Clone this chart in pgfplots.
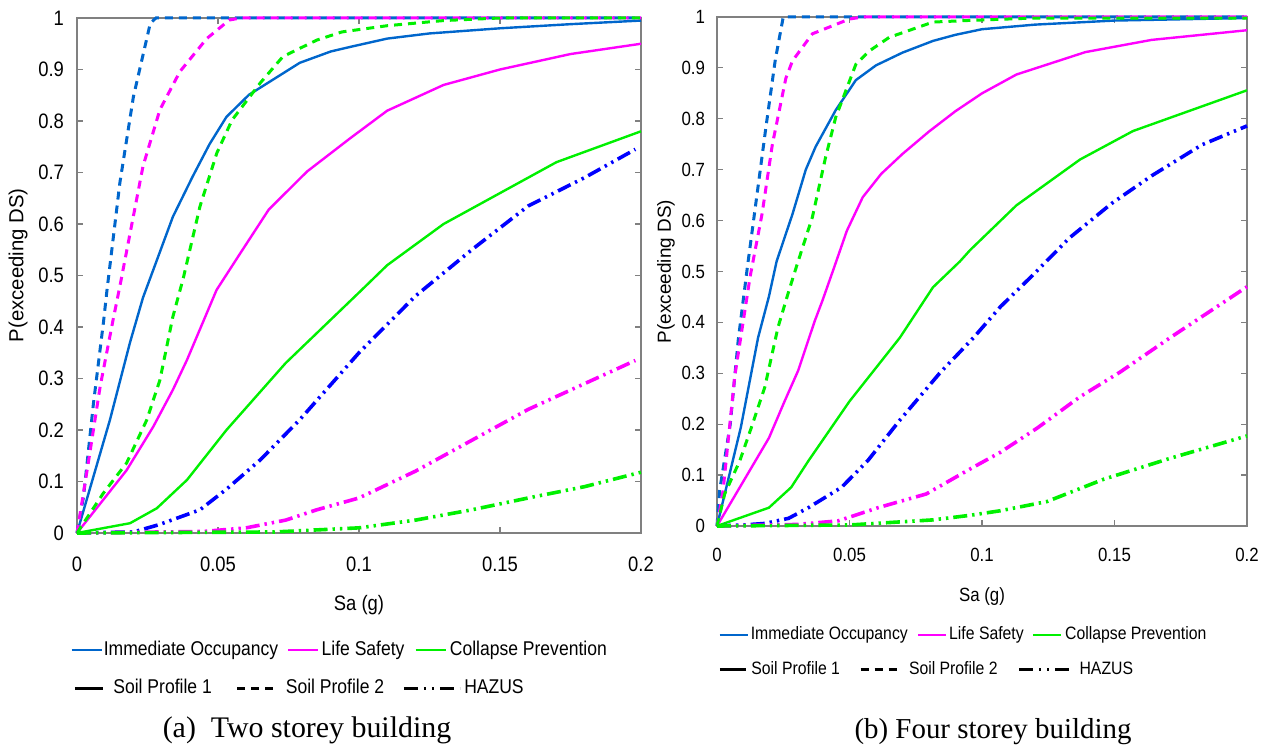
\documentclass[border=0pt]{standalone}
\usepackage{fontspec}
\usepackage{pgfplots}
\pgfplotsset{compat=1.18}
\setmainfont{Liberation Serif}
\newfontfamily\narrow[FakeStretch=0.88]{Liberation Sans}
\newfontfamily\sansf{Liberation Sans}
\definecolor{ioblue}{RGB}{0,102,204}
\definecolor{hzblue}{RGB}{0,0,255}
\definecolor{lsmag}{RGB}{255,0,255}
\definecolor{cpgreen}{RGB}{0,240,0}
\definecolor{axgray}{RGB}{128,128,128}
\tikzset{
  sp1/.style={line width=1.2bp},
  sp2/.style={line width=1.5bp, dash pattern=on 4bp off 3bp},
  hz/.style={line width=1.8bp, dash pattern=on 7bp off 2.5bp on 1.2bp off 2.5bp on 1.2bp off 2.5bp},
}
\pgfplotsset{
  leg/.style n args={3}{legend image code/.code={\path (-#1,0bp); \draw[##1] (0bp,0bp) -- (#2,0bp); \path (#2+#3,0bp);}},
  frag/.style={
    scale only axis, clip=false,
    xmin=0, xmax=0.2, ymin=0, ymax=1,
    axis line style={axgray, line width=0.8bp},
    tick style={axgray, line width=0.6bp},
    tick align=inside, major tick length=3bp,
    xtick={0,0.05,0.1,0.15,0.2},
    xticklabels={0,0.05,0.1,0.15,0.2},
    ytick={0,0.1,0.2,0.3,0.4,0.5,0.6,0.7,0.8,0.9,1},
    yticklabels={0,0.1,0.2,0.3,0.4,0.5,0.6,0.7,0.8,0.9,1},
    ylabel={P(exceeding DS)}, xlabel={Sa (g)},
    legend cell align=left,
  },
  legrow/.style={hide axis, scale only axis, xmin=0, xmax=1, ymin=0, ymax=1,
    legend cell align=left},
}
\begin{document}
\begin{tikzpicture}
\path[use as bounding box] (0,0) rectangle (637bp,374.5bp);

% ---------------- (a) Two storey ----------------
\begin{axis}[frag,
  at={(38.5bp,108bp)}, anchor=south west, width=282bp, height=257.5bp,
  ticklabel style={font=\narrow\fontsize{10.5}{12}\selectfont},
  xticklabel shift=8.5bp, yticklabel shift=3bp,
  every axis y label/.style={at={(axis description cs:-0.1046,0.52)}, rotate=90, anchor=center, font=\sansf\fontsize{10.2}{12}\selectfont},
  every axis x label/.style={at={(axis description cs:0.5,-0.14)}, anchor=center, font=\narrow\fontsize{10.5}{12}\selectfont},
  legend style={draw=none, fill=none, inner sep=0pt, at={(-0.0124,-0.2272)}, anchor=west,
    font=\narrow\fontsize{10}{12}\selectfont,
    nodes={inner sep=0pt}, column sep=0pt},
  legend columns=3,
]
\addlegendimage{ioblue, sp1, leg={0bp}{15bp}{0.5bp}}\addlegendentry{Immediate Occupancy}
\addlegendimage{lsmag, sp1, leg={4.5bp}{15bp}{1bp}}\addlegendentry{Life Safety}
\addlegendimage{cpgreen, sp1, leg={5bp}{15bp}{1.5bp}}\addlegendentry{Collapse Prevention}
% IO SP1
\addplot[ioblue, sp1, forget plot] coordinates {(0,0) (0.0117,0.22) (0.0188,0.37) (0.0234,0.457) (0.028,0.525) (0.034,0.614) (0.041,0.692) (0.047,0.755) (0.053,0.808) (0.061,0.851) (0.07,0.882) (0.079,0.913) (0.09,0.935) (0.097,0.944) (0.11,0.96) (0.125,0.97) (0.15,0.98) (0.175,0.988) (0.2,0.995)};
% IO SP2
\addplot[ioblue, sp2, forget plot] coordinates {(0,0) (0.0023,0.07) (0.0058,0.25) (0.0094,0.41) (0.0106,0.47) (0.0152,0.68) (0.02,0.847) (0.026,0.99) (0.028,1) (0.2,1)};
% LS SP1
\addplot[lsmag, sp1, forget plot] coordinates {(0,0) (0.0176,0.122) (0.027,0.206) (0.034,0.278) (0.039,0.336) (0.0495,0.472) (0.058,0.544) (0.068,0.628) (0.0816,0.702) (0.097,0.767) (0.11,0.82) (0.13,0.87) (0.15,0.9) (0.175,0.93) (0.2,0.95)};
% LS SP2
\addplot[lsmag, sp2, forget plot] coordinates {(0,0) (0.004,0.136) (0.0082,0.284) (0.0128,0.414) (0.0152,0.479) (0.0234,0.712) (0.0294,0.822) (0.0365,0.896) (0.046,0.96) (0.054,0.996) (0.058,1) (0.2,1)};
% CP SP1
\addplot[cpgreen, sp1, forget plot] coordinates {(0,0) (0.0188,0.019) (0.0283,0.048) (0.039,0.103) (0.053,0.2) (0.074,0.33) (0.1004,0.469) (0.11,0.52) (0.13,0.6) (0.15,0.66) (0.17,0.72) (0.2,0.78)};
% CP SP2
\addplot[cpgreen, sp2, forget plot] coordinates {(0,0) (0.0093,0.077) (0.0176,0.136) (0.0247,0.219) (0.0294,0.297) (0.034,0.42) (0.0377,0.495) (0.0436,0.634) (0.0496,0.738) (0.055,0.802) (0.065,0.874) (0.073,0.925) (0.085,0.957) (0.094,0.973) (0.11,0.985) (0.13,0.995) (0.15,1) (0.2,1)};
% HAZUS
\addplot[hzblue, hz, forget plot] coordinates {(0,0) (0.02,0.002) (0.029,0.016) (0.0436,0.045) (0.053,0.085) (0.065,0.142) (0.079,0.22) (0.1,0.35) (0.12,0.46) (0.14,0.55) (0.16,0.635) (0.18,0.69) (0.198,0.745)};
\addplot[lsmag, hz, forget plot] coordinates {(0,0) (0.045,0.003) (0.06,0.01) (0.074,0.025) (0.085,0.045) (0.1,0.068) (0.12,0.12) (0.14,0.18) (0.16,0.24) (0.18,0.29) (0.198,0.335)};
\addplot[cpgreen, hz, forget plot] coordinates {(0,0) (0.07,0.002) (0.1,0.01) (0.12,0.025) (0.14,0.045) (0.16,0.068) (0.18,0.09) (0.2,0.118)};
\end{axis}
\begin{axis}[legrow,
  at={(38.5bp,108bp)}, anchor=south west, width=282bp, height=257.5bp,
  legend style={draw=none, fill=none, inner sep=0pt, at={(-0.0071,-0.301)}, anchor=west,
    font=\narrow\fontsize{10}{12}\selectfont,
    nodes={inner sep=0pt}, column sep=0pt},
  legend columns=3,
]
\addlegendimage{black, line width=1.5bp, leg={0bp}{14bp}{4.5bp}}\addlegendentry{Soil Profile 1}
\addlegendimage{black, line width=1.5bp, dash pattern=on 4bp off 3bp, leg={12bp}{18.5bp}{5bp}}\addlegendentry{Soil Profile 2}
\addlegendimage{black, line width=1.5bp, dash pattern=on 7bp off 3bp on 1bp off 3bp on 1bp off 3bp, leg={9bp}{28bp}{1.5bp}}\addlegendentry{HAZUS}
\end{axis}

% ---------------- (b) Four storey ----------------
\begin{axis}[frag,
  at={(358.5bp,111.5bp)}, anchor=south west, width=265bp, height=254.5bp,
  ticklabel style={font=\narrow\fontsize{9.6}{11}\selectfont},
  xticklabel shift=7.5bp, yticklabel shift=2.5bp,
  every axis y label/.style={at={(axis description cs:-0.0962,0.5)}, rotate=90, anchor=center, font=\sansf\fontsize{9.5}{11}\selectfont},
  every axis x label/.style={at={(axis description cs:0.5,-0.1395)}, anchor=center, font=\narrow\fontsize{9.6}{11}\selectfont},
  legend style={draw=none, fill=none, inner sep=0pt, at={(0.0019,-0.2141)}, anchor=west,
    font=\narrow\fontsize{9}{11}\selectfont,
    nodes={inner sep=0pt}, column sep=0pt},
  legend columns=3,
]
\addlegendimage{ioblue, sp1, leg={0bp}{14bp}{1bp}}\addlegendentry{Immediate Occupancy}
\addlegendimage{lsmag, sp1, leg={4.5bp}{14bp}{1bp}}\addlegendentry{Life Safety}
\addlegendimage{cpgreen, sp1, leg={4bp}{14bp}{1.5bp}}\addlegendentry{Collapse Prevention}
% IO SP1
\addplot[ioblue, sp1, forget plot] coordinates {(0,0) (0.009,0.194) (0.0155,0.37) (0.0196,0.451) (0.0225,0.52) (0.0285,0.613) (0.0335,0.70) (0.0372,0.745) (0.0448,0.817) (0.0524,0.876) (0.06,0.905) (0.07,0.93) (0.0815,0.953) (0.09,0.965) (0.1,0.976) (0.12,0.985) (0.15,0.993) (0.2,0.998)};
% IO SP2
\addplot[ioblue, sp2, forget plot] coordinates {(0,0) (0.001,0.07) (0.005,0.2) (0.008,0.365) (0.0115,0.51) (0.0185,0.785) (0.022,0.916) (0.025,1) (0.2,1)};
% LS SP1
\addplot[lsmag, sp1, forget plot] coordinates {(0,0) (0.0196,0.173) (0.0255,0.245) (0.0306,0.305) (0.0369,0.403) (0.0398,0.443) (0.044,0.505) (0.049,0.58) (0.055,0.646) (0.062,0.692) (0.07,0.731) (0.08,0.775) (0.09,0.815) (0.1,0.85) (0.113,0.887) (0.139,0.931) (0.164,0.955) (0.2,0.974)};
% LS SP2
\addplot[lsmag, sp2, forget plot] coordinates {(0,0) (0.0023,0.07) (0.0067,0.294) (0.0125,0.49) (0.017,0.613) (0.0209,0.75) (0.026,0.88) (0.0285,0.914) (0.036,0.967) (0.05,0.996) (0.055,1) (0.2,1)};
% CP SP1
\addplot[cpgreen, sp1, forget plot] coordinates {(0,0) (0.0196,0.036) (0.028,0.076) (0.0345,0.128) (0.05,0.245) (0.069,0.37) (0.0815,0.469) (0.0917,0.52) (0.0955,0.542) (0.113,0.63) (0.137,0.72) (0.157,0.776) (0.2,0.856)};
% CP SP2
\addplot[cpgreen, sp2, forget plot] coordinates {(0,0) (0.0029,0.063) (0.0086,0.128) (0.013,0.194) (0.018,0.272) (0.023,0.39) (0.027,0.46) (0.03,0.51) (0.036,0.607) (0.041,0.725) (0.0448,0.803) (0.0486,0.855) (0.0524,0.907) (0.0574,0.933) (0.065,0.96) (0.0815,0.99) (0.094,0.993) (0.12,0.998) (0.2,0.998)};
% HAZUS
\addplot[hzblue, hz, forget plot] coordinates {(0,0) (0.01,0.002) (0.018,0.005) (0.027,0.015) (0.0345,0.036) (0.047,0.076) (0.057,0.129) (0.069,0.208) (0.084,0.3) (0.0968,0.37) (0.107,0.431) (0.1188,0.491) (0.133,0.566) (0.149,0.634) (0.164,0.688) (0.183,0.749) (0.2,0.786)};
\addplot[lsmag, hz, forget plot] coordinates {(0,0) (0.03,0.003) (0.0457,0.01) (0.0608,0.036) (0.079,0.063) (0.0955,0.112) (0.107,0.145) (0.121,0.193) (0.137,0.254) (0.152,0.302) (0.171,0.37) (0.2,0.47)};
\addplot[cpgreen, hz, forget plot] coordinates {(0,0) (0.05,0.002) (0.0815,0.012) (0.0955,0.021) (0.107,0.03) (0.1245,0.048) (0.146,0.092) (0.171,0.133) (0.2,0.177)};
\end{axis}
\begin{axis}[legrow,
  at={(358.5bp,111.5bp)}, anchor=south west, width=265bp, height=254.5bp,
  legend style={draw=none, fill=none, inner sep=0pt, at={(0.0019,-0.2829)}, anchor=west,
    font=\narrow\fontsize{9}{11}\selectfont,
    nodes={inner sep=0pt}, column sep=0pt},
  legend columns=3,
]
\addlegendimage{black, line width=1.5bp, leg={0bp}{13bp}{2bp}}\addlegendentry{Soil Profile 1}
\addlegendimage{black, line width=1.5bp, dash pattern=on 4bp off 3bp, leg={9.5bp}{18bp}{5.5bp}}\addlegendentry{Soil Profile 2}
\addlegendimage{black, line width=1.5bp, dash pattern=on 7bp off 3bp on 1bp off 3bp on 1bp off 3bp, leg={10bp}{26.5bp}{3bp}}\addlegendentry{HAZUS}
\end{axis}

\node[font=\fontsize{15}{18}\selectfont] at (153.5bp,9.5bp) {(a)\ \ Two storey building};
\node[font=\fontsize{14.5}{17}\selectfont] at (496.5bp,8.5bp) {(b) Four storey building};
\end{tikzpicture}
\end{document}
